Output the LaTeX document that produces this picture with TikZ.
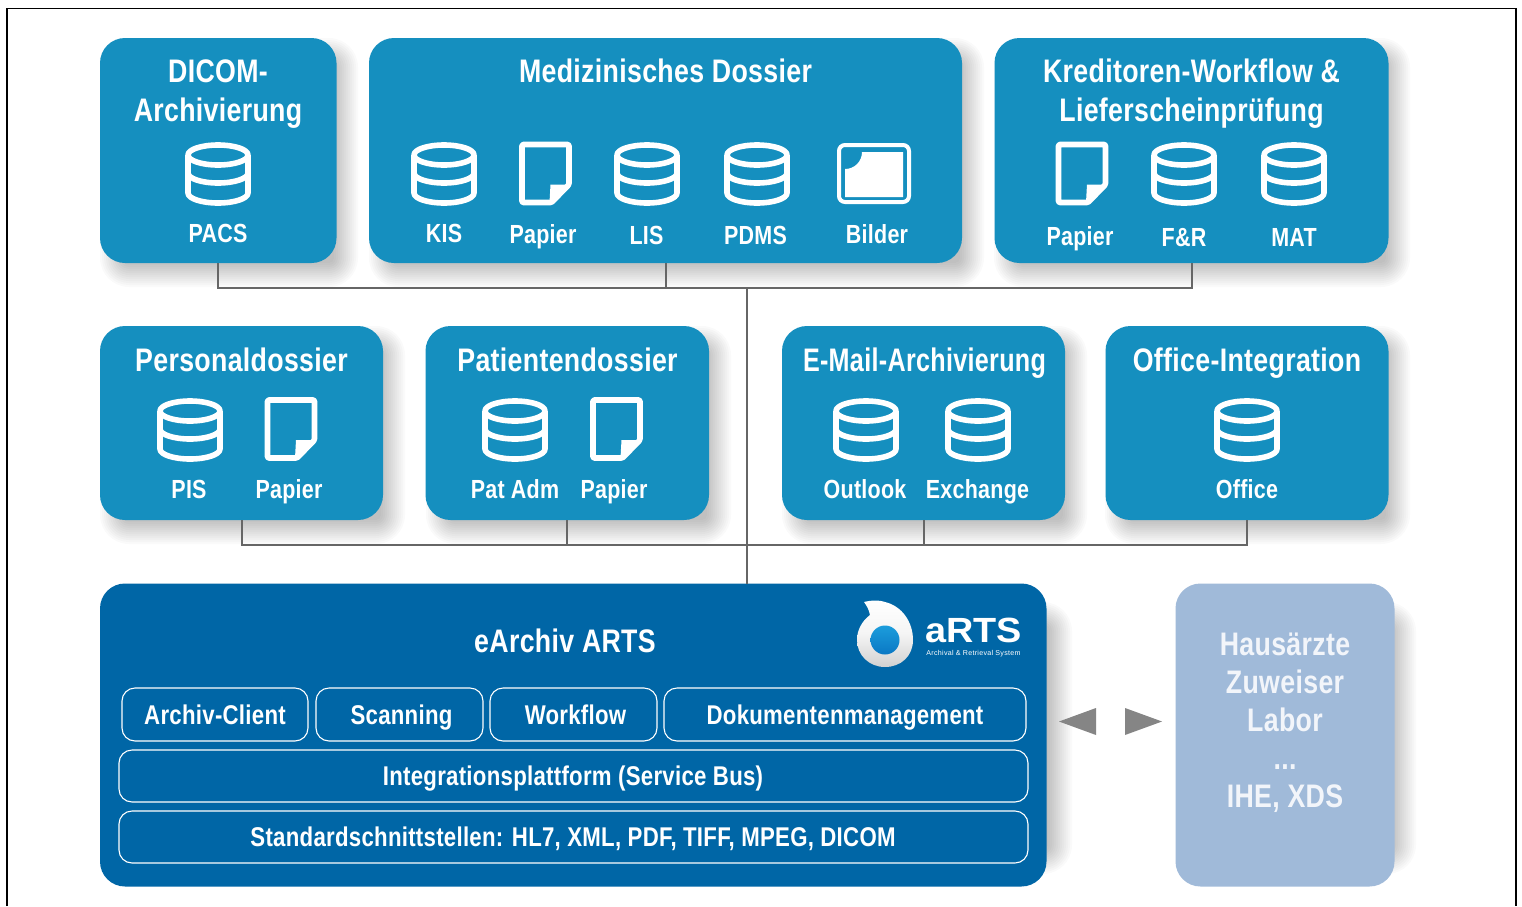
\documentclass[tikz,border=0pt]{standalone}
\usepackage{fontspec}
\setmainfont{Liberation Sans}[FakeStretch=0.82,LetterSpace=1]
\newfontfamily\logofont{Liberation Sans}[FakeStretch=1.08]
\newfontfamily\logosmall{Liberation Sans}[LetterSpace=4]
\definecolor{tealbox}{HTML}{158FBF}
\definecolor{archblue}{HTML}{0066A6}
\definecolor{paleblue}{HTML}{A0BAD9}
\definecolor{paletext}{HTML}{F2F5FA}
\definecolor{linegray}{HTML}{666666}
\definecolor{arrowgray}{HTML}{858585}
\definecolor{ballA}{HTML}{1C9DDC}
\definecolor{ballB}{HTML}{0A78C4}
\tikzset{
  panelbox/.style={rounded corners=12.5pt,inner sep=0pt,outer sep=0pt},
  titletext/.style={anchor=base,text=white,font=\bfseries\fontsize{16.3}{18}\selectfont,inner sep=0pt},
  labeltext/.style={anchor=base,text=white,font=\bfseries\fontsize{13.1}{15}\selectfont,inner sep=0pt},
  modtext/.style={anchor=base,text=white,font=\bfseries\fontsize{13.55}{15}\selectfont,inner sep=0pt},
  hausText/.style={anchor=base,text=paletext,font=\bfseries\fontsize{16.3}{18}\selectfont,inner sep=0pt},
  modbox/.style={draw=white,line width=0.55pt,rounded corners=6.5pt,inner sep=0pt,outer sep=0pt},
  iconline/.style={draw=white,line width=2.8pt,line join=round},
  connector/.style={draw=linegray,line width=1pt},
}
% soft shadow: its mid-blur rectangle
\newcommand{\softshadow}[4]{%
  \foreach \k in {0,...,12}{%
    \pgfmathsetmacro{\dd}{2*\k-12}%
    \pgfmathsetmacro{\rr}{(17+\dd)*0.5}%
    \fill[black,opacity=0.018,rounded corners=\rr pt]
      ({#1-\dd},{#2-\dd}) rectangle ({#3+\dd},{#4+\dd});
  }%
}
\newcommand{\panelat}[6]{%
  \node[panelbox,fill=#6,minimum width={(#4-#2)*0.5pt},minimum height={(#5-#3)*0.5pt}]
    (#1) at ({(#2+#4)/2},{(#3+#5)/2}) {};
}
\newcommand{\modat}[5]{%
  \node[modbox,minimum width={(#4-#2)*0.5pt},minimum height={(#5-#3)*0.5pt}]
    (#1) at ({(#2+#4)/2},{(#3+#5)/2}) {};
}
% icons, by centre
\newcommand{\dbicon}[2]{%
  \begin{scope}[shift={(#1,#2)}]
    \draw[iconline] (0,-19) ellipse [x radius=30,y radius=10];
    \draw[iconline] (-30,-19) -- (-30,19) arc [start angle=180,end angle=360,x radius=30,y radius=-10] -- (30,-19);
    \draw[iconline] (-30,-1) arc [start angle=180,end angle=360,x radius=30,y radius=-10];
  \end{scope}}
\newcommand{\papericon}[2]{%
  \begin{scope}[shift={(#1,#2)}]
    \draw[iconline,rounded corners=0.6pt] (-23.5,-29) -- (23.5,-29) -- (23.5,11) -- (6,29) -- (-23.5,29) -- cycle;
    \fill[white] (23.5,11) -- (5,11) -- (4,29) -- (7,29) -- cycle;
  \end{scope}}
\newcommand{\bildericon}[2]{%
  \begin{scope}[shift={(#1,#2)}]
    \draw[draw=white,line width=2pt,rounded corners=3pt] (-35,-28.5) rectangle (35,28.5);
    \fill[white] (-12,-21.5) -- (29,-21.5) -- (29,23.5) -- (-29,23.5) -- (-29,-4.5)
      .. controls (-19.5,-4.5) and (-12,-12) .. (-12,-21.5) -- cycle;
  \end{scope}}
\begin{document}
\begin{tikzpicture}[x=0.5pt,y=-0.5pt]
\useasboundingbox (0,0) rectangle (1522,906);
\fill[white] (0,0) rectangle (1522,906);
\draw[black,line width=0.7pt] (7,906) -- (7,8.5) -- (1516,8.5) -- (1516,906);
% shadows
\softshadow{112}{50}{346}{275}
\softshadow{381}{50}{972}{275}
\softshadow{1006}{50}{1398}{275}
\softshadow{112}{338}{393}{532}
\softshadow{438}{338}{719}{532}
\softshadow{794}{338}{1075}{532}
\softshadow{1117}{338}{1398}{532}
\softshadow{112}{614}{1060}{862}
\softshadow{1188}{614}{1404}{862}
% panels
\panelat{dicom}{100}{38}{336.5}{263}{tealbox}
\panelat{med}{369}{38}{962}{263}{tealbox}
\panelat{kred}{994.5}{38}{1388.5}{263}{tealbox}
\panelat{pers}{100}{326}{383}{520}{tealbox}
\panelat{pat}{425.5}{326}{709}{520}{tealbox}
\panelat{email}{782}{326}{1065}{520}{tealbox}
\panelat{office}{1105.5}{326}{1388.5}{520}{tealbox}
\panelat{arts}{100}{583.5}{1046.5}{886.5}{archblue}
\panelat{haus}{1175.5}{583.5}{1394.5}{886.5}{paleblue}
% connectors
\coordinate (busA) at (747,288);
\coordinate (busB) at (747,545);
\draw[connector] (dicom.south) |- (busA);
\draw[connector] (med.south) |- (busA);
\draw[connector] (kred.south) |- (busA);
\draw[connector] (busA) -- (busA |- arts.north);
\draw[connector] (pers.south) |- (busB);
\draw[connector] (pat.south) |- (busB);
\draw[connector] (email.south) |- (busB);
\draw[connector] (office.south) |- (busB);
% titles
\node[titletext] (t1a) at (218,82) {DICOM-};
\node[titletext] (t1b) at (218,121) {Archivierung};
\node[titletext] (t2) at (665.5,82.5) {Medizinisches Dossier};
\node[titletext] (t3a) at (1191.5,82.5) {Kreditoren-Workflow \&};
\node[titletext] (t3b) at (1191.5,121) {Lieferscheinprüfung};
\node[titletext] (t4) at (241.5,371) {Personaldossier};
\node[titletext] (t5) at (567.5,371) {Patientendossier};
\node[titletext] (t6) at (924.5,371) {\resizebox{121.5pt}{\height}{E-Mail-Archivierung}};
\node[titletext] (t7) at (1247,371) {Office-Integration};
\node[titletext] (t8) at (565,652.5) {eArchiv ARTS};
% icons row 1
\dbicon{218}{174}
\dbicon{444}{174}
\papericon{545.5}{173.5}
\dbicon{647}{174}
\dbicon{757}{174}
\bildericon{874}{173.5}
\papericon{1082}{173.5}
\dbicon{1184}{174}
\dbicon{1294}{174}
% labels row 1
\node[labeltext] (l1) at (218,242) {PACS};
\node[labeltext] (l2) at (444,242) {KIS};
\node[labeltext] (l3) at (543,243) {Papier};
\node[labeltext] (l4) at (646.5,244) {LIS};
\node[labeltext] (l5) at (755.5,244) {PDMS};
\node[labeltext] (l6) at (877,243) {Bilder};
\node[labeltext] (l7) at (1080,245) {Papier};
\node[labeltext] (l8) at (1184,246) {F\&R};
\node[labeltext] (l9) at (1294,246) {MAT};
% icons row 2
\dbicon{190}{430}
\papericon{291}{429}
\dbicon{515}{430}
\papericon{616.5}{429}
\dbicon{866}{430}
\dbicon{978}{430}
\dbicon{1247}{430}
% labels row 2
\node[labeltext] (m1) at (189,498) {PIS};
\node[labeltext] (m2) at (289,498) {Papier};
\node[labeltext] (m3) at (515,498) {Pat Adm};
\node[labeltext] (m4) at (614,498) {Papier};
\node[labeltext] (m5) at (865,498) {Outlook};
\node[labeltext] (m6) at (977.5,498) {Exchange};
\node[labeltext] (m7) at (1247,498) {Office};
% modules
\modat{mac}{122}{688}{308}{741}
\modat{msc}{316}{688}{483}{741}
\modat{mwf}{490}{688}{657}{741}
\modat{mdm}{664}{688}{1026}{741}
\modat{mip}{119}{750}{1028}{802}
\modat{mst}{119}{811}{1028}{863}
\node[modtext] (tac) at (215,724) {Archiv-Client};
\node[modtext] (tsc) at (401.5,724) {Scanning};
\node[modtext] (twf) at (575.5,724) {Workflow};
\node[modtext] (tdm) at (845,724) {Dokumentenmanagement};
\node[modtext] (tip) at (573,785) {Integrationsplattform (Service Bus)};
\node[modtext] (tst) at (573,846) {Standardschnittstellen: HL7, XML, PDF, TIFF, MPEG, DICOM};
% logo
\shade[top color=white,bottom color=black!18,middle color=black!4]
  (864,602) .. controls (872,600) and (880,600) .. (885,602)
  .. controls (902,606) and (913,622) .. (913,640)
  .. controls (913,656) and (901,667) .. (885,667)
  .. controls (869,667) and (857,655) .. (857,640)
  .. controls (857,630) and (862,621) .. (870,615)
  .. controls (869,610) and (867,606) .. (864,602) -- cycle;
\shade[top color=ballA,bottom color=ballB] (885,640) circle [radius=14.5];
\node[anchor=base west,inner sep=0pt,text=white,font=\logofont\bfseries\fontsize{17.5}{20}\selectfont] (logoa) at (925,642) {aRTS};
\node[anchor=base west,inner sep=0pt,text=white,font=\logosmall\fontsize{3.55}{5}\selectfont] (logob) at (926,655) {Archival \& Retrieval System};
% arrows
\fill[arrowgray] (1059,721.5) -- (1096,708) -- (1096,735) -- cycle;
\fill[arrowgray] (1162,721.5) -- (1125,708) -- (1125,735) -- cycle;
% haus text
\node[hausText] (h1) at (1285,655) {Hausärzte};
\node[hausText] (h2) at (1285,693) {Zuweiser};
\node[hausText] (h3) at (1285,731) {Labor};
\node[hausText] (h4) at (1285,769) {...};
\node[hausText] (h5) at (1285,807) {IHE, XDS};
\end{tikzpicture}
\end{document}
